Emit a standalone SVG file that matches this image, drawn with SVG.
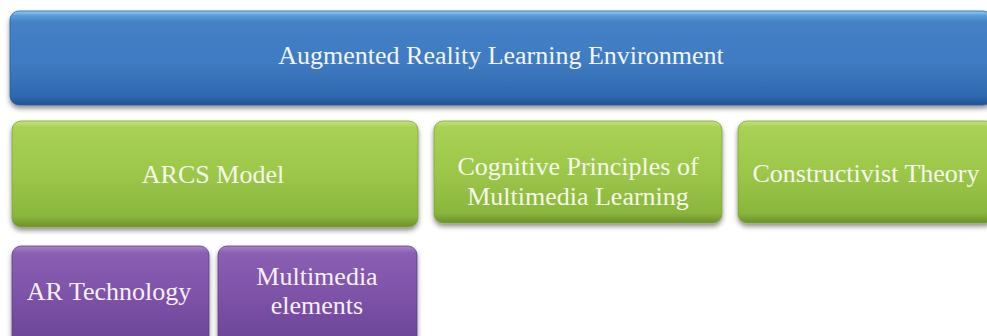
<svg xmlns="http://www.w3.org/2000/svg" width="987" height="336" viewBox="0 0 987 336">
  <defs>
    <linearGradient id="gBlue" x1="0" y1="0" x2="0" y2="1">
      <stop offset="0" stop-color="#8fd0f4"/>
      <stop offset="0.05" stop-color="#5a9ad8"/>
      <stop offset="0.12" stop-color="#4580c6"/>
      <stop offset="0.55" stop-color="#3f7bc2"/>
      <stop offset="0.9" stop-color="#2f69b0"/>
      <stop offset="1" stop-color="#24528f"/>
    </linearGradient>
    <linearGradient id="gGreen" x1="0" y1="0" x2="0" y2="1">
      <stop offset="0" stop-color="#c6e27e"/>
      <stop offset="0.06" stop-color="#a9d155"/>
      <stop offset="0.5" stop-color="#9cc74a"/>
      <stop offset="0.9" stop-color="#8ab63c"/>
      <stop offset="1" stop-color="#6e902c"/>
    </linearGradient>
    <linearGradient id="gPurple" x1="0" y1="0" x2="0" y2="1">
      <stop offset="0" stop-color="#a585c4"/>
      <stop offset="0.07" stop-color="#8a5fb3"/>
      <stop offset="0.5" stop-color="#7d52a8"/>
      <stop offset="1" stop-color="#6a4496"/>
    </linearGradient>
    <filter id="shadow" x="-5%" y="-20%" width="110%" height="150%">
      <feDropShadow dx="0" dy="3" stdDeviation="2.5" flood-color="#000" flood-opacity="0.45"/>
    </filter>
  </defs>
  <style>
    .box { filter: url(#shadow); }
    .blue { fill: url(#gBlue); stroke: #2b5e9e; stroke-width: 0.8; }
    .green { fill: url(#gGreen); stroke: #7ea43a; stroke-width: 0.8; }
    .purple { fill: url(#gPurple); stroke: #5f3d88; stroke-width: 0.8; }
    .label { font-family: "Liberation Serif", "Times New Roman", serif; font-size: 26px; text-anchor: middle; }
    .onBlue { fill: #f2f6fa; }
    .onGreen { fill: #f6f7ea; }
    .onPurple { fill: #f6f0f8; }
  </style>

  <rect width="987" height="336" fill="#ffffff"/>

  <!-- top level -->
  <g id="ar-learning-environment">
    <rect class="box blue" x="10" y="11" width="982" height="94" rx="9"/>
    <text class="label onBlue" x="501" y="64">Augmented Reality Learning Environment</text>
  </g>

  <!-- second row: theoretical foundations -->
  <g id="arcs-model">
    <rect class="box green" x="12" y="121" width="406" height="106" rx="9"/>
    <text class="label onGreen" x="213" y="183">ARCS Model</text>
  </g>
  <g id="cognitive-principles">
    <rect class="box green" x="434" y="121" width="288" height="102" rx="9"/>
    <text class="label onGreen" x="578" y="175">Cognitive Principles of</text>
    <text class="label onGreen" x="578" y="205">Multimedia Learning</text>
  </g>
  <g id="constructivist-theory">
    <rect class="box green" x="738" y="121" width="256" height="102" rx="9"/>
    <text class="label onGreen" x="866" y="182">Constructivist Theory</text>
  </g>

  <!-- third row: components -->
  <g id="ar-technology">
    <rect class="box purple" x="12" y="246" width="197" height="100" rx="9"/>
    <text class="label onPurple" x="109" y="300">AR Technology</text>
  </g>
  <g id="multimedia-elements">
    <rect class="box purple" x="218" y="246" width="199" height="100" rx="9"/>
    <text class="label onPurple" x="317" y="285">Multimedia</text>
    <text class="label onPurple" x="317" y="314">elements</text>
  </g>
</svg>
